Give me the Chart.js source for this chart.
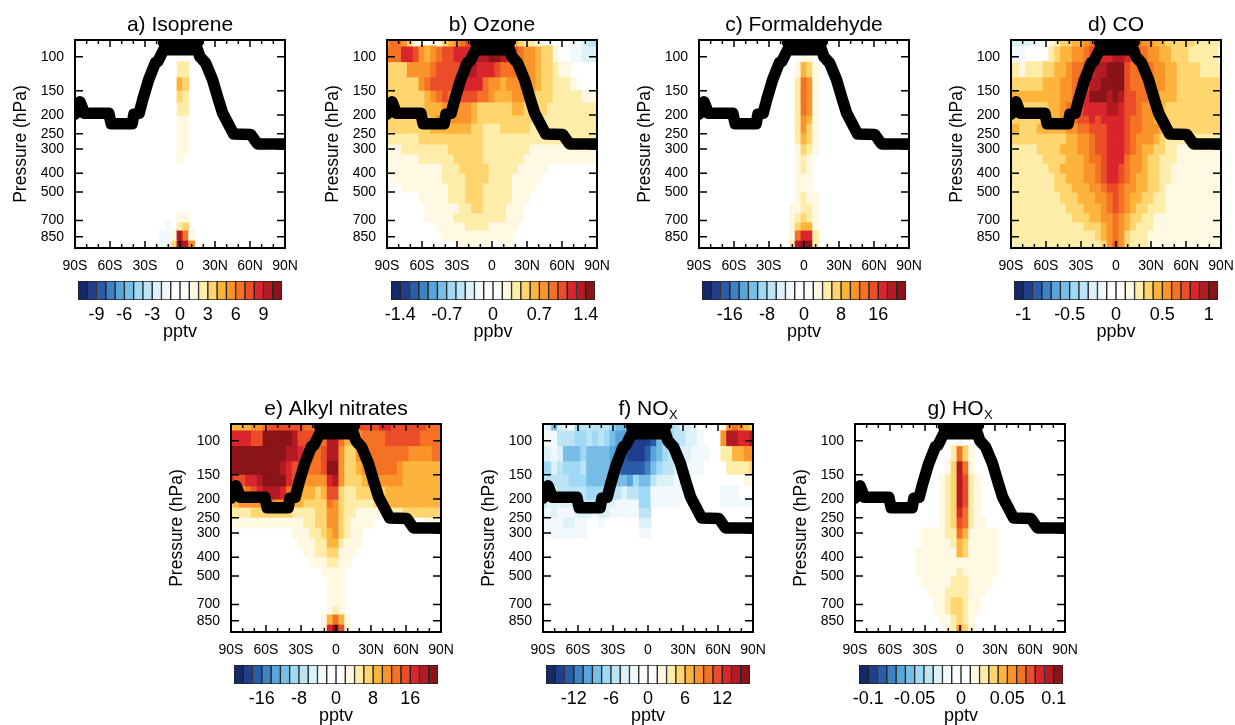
<!DOCTYPE html>
<html>
<head>
<meta charset="utf-8">
<script src="https://cdn.jsdelivr.net/npm/chart.js@4/dist/chart.umd.min.js"></script>
<style>
html, body { margin: 0; background: #fff; width: 1235px; height: 725px; overflow: hidden; }
canvas { position: absolute; }
</style>
</head>
<body>
<script>
// shared axes
var latTicks = [-90, -60, -30, 0, 30, 60, 90];
var latLabels = ["90S", "60S", "30S", "0", "30N", "60N", "90N"];
var latMinorTicks = [-80, -70, -50, -40, -20, -10, 10, 20, 40, 50, 70, 80];
var pressureTicks = [100, 150, 200, 250, 300, 400, 500, 700, 850];
var pressureEdges = [82, 88, 106, 127, 149, 171, 200, 220, 248, 282, 318, 354, 398, 448, 499, 569, 640, 713, 785, 885, 972];
var fullLats = [-90, -85, -80, -75, -70, -65, -60, -55, -50, -45, -40, -35, -30, -25, -20, -15, -10, -5, 0, 5, 10, 15, 20, 25, 30, 35, 40, 45, 50, 55, 60, 65, 70, 75, 80, 85, 90];

// tropopause
var tropLats = [-90, -88, -85.7, -83.5, -82, -61, -59, -41, -39.5, -35, -32, -27, -21, -19, -14, 15, 17, 22, 28, 33, 36.6, 41, 46, 60.7, 66.5, 90];
var tropPressures = [198, 185, 171, 185, 196, 196, 222, 222, 198, 196, 167, 132, 107, 106, 92, 92, 100, 108, 132, 167, 196, 220, 251, 252, 282.5, 282.5];
var tropCapLats = [-14, 15];
var tropCapPressures = [85, 85];

// colour bar boxes, blue end to red end
var boxColors = ["#16296b", "#1f3f8c", "#2a5caa", "#3f82c3", "#56a5db", "#77bde6", "#9ed9f6", "#bce4f5", "#ddf1f9", "#f1f9fd", "#ffffff",
                 "#ffffff", "#fff8e3", "#fdeda9", "#fed56f", "#fdb43c", "#f9932a", "#f57224", "#ea4d28", "#d9252b", "#b31a23", "#8b1419"];

// Rows run top to bottom between pressureEdges, values are counted in colour bar intervals.
// Short rows just stop where the rest is zero.
var isopreneLats = [-15, -10, -5, 0, 5, 10];
var isopreneRows = [[], [],
  [0, 0, 0, 2, 2], [0, 0, 0, 4, 3], [0, 0, 0, 3, 2], [0, 0, 0, 2, 2], [0, 0, 0, 1, 1], [0, 0, 0, 1, 1], [0, 0, 0, 1, 1], [0, 0, 0, 1, 1], [0, 0, 0, 1],
  [], [], [], [], [], [0, 0, 0, 1, 1], [0, -1, 0, 2, 3], [-1, -1, 1, 9, 6, 1], [-1, -1, 3, 10, 9, 5]];

var formaldehydeLats = [-15, -10, -5, 0, 5, 10, 15];
var formaldehydeRows = [[],
  [0, 0, 0, 1, 1], [0, 0, 1, 4, 3, 1], [0, 0, 2, 6, 5, 1], [0, 0, 2, 6, 5, 1], [0, 0, 2, 6, 5, 1], [0, 0, 2, 5, 4, 1], [0, 0, 2, 5, 3, 1], [0, 0, 2, 4, 3, 1], [0, 0, 1, 3, 2, 1],
  [0, 0, 1, 2, 1], [0, 0, 1, 2, 1], [0, 0, 1, 1, 1], [0, 0, 1, 1, 1], [0, 0, 1, 2, 1, 1], [0, 1, 1, 2, 2, 1], [0, 1, 2, 3, 2, 1], [0, 1, 3, 4, 4, 1], [0, 1, 6, 8, 8, 2], [0, 2, 9, 10, 10, 2]];

var hoxLats = [-35, -30, -25, -20, -15, -10, -5, 0, 5, 10, 15, 20, 25, 30, 35];
var hoxRows = [[],
  [0, 0, 0, 0, 0, 0, 0, 1],
  [0, 0, 0, 0, 0, 0, 2, 6, 3, 1],
  [0, 0, 0, 0, 0, 1, 3, 9, 6, 1],
  [0, 0, 0, 0, 1, 2, 3, 9, 7, 2, 1],
  [0, 0, 0, 0, 1, 2, 3, 9, 7, 2, 1],
  [0, 0, 0, 0, 1, 2, 3, 9, 7, 2, 1],
  [0, 0, 0, 0, 1, 2, 3, 8, 6, 2, 1],
  [0, 0, 0, 0, 1, 2, 3, 7, 6, 2, 1, 1],
  [0, 1, 1, 1, 1, 2, 2, 6, 4, 1, 1, 1, 1, 1],
  [0, 1, 1, 1, 1, 1, 2, 4, 3, 1, 1, 1, 1, 1],
  [1, 1, 1, 1, 1, 1, 1, 4, 3, 1, 1, 1, 1, 1],
  [1, 1, 1, 1, 1, 1, 1, 1, 1, 1, 1, 1, 1, 1],
  [1, 1, 1, 1, 1, 1, 1, 2, 1, 1, 1, 1, 1, 1],
  [0, 1, 1, 1, 1, 1, 2, 2, 2, 1, 1, 1, 1],
  [0, 0, 1, 1, 1, 2, 2, 2, 2, 1, 1, 1],
  [0, 0, 0, 1, 1, 2, 3, 3, 2, 1, 1],
  [0, 0, 0, 1, 1, 2, 3, 3, 2, 1, 1],
  [0, 0, 0, 0, 1, 1, 2, 3, 2, 1],
  [0, 0, 0, 0, 0, 1, 2, 5, 3, 1]];

var ozoneRows = [
  [5, 6, 6, 5, 3, 1, 0, 0, 0, 1, 3, 4, 5, 6, 7, 7, 7, 7, 7, 7, 7, 7, 4, 3, 2, 2, 1, 0, 0, 0, 0, 0, -1, -1, -2, -3, -3],
  [6, 6, 6, 8, 8, 7, 5, 4, 5, 6, 7, 7, 8, 8, 8, 9, 9, 9, 10, 10, 9, 8, 7, 6, 5, 5, 4, 3, 3, 1, 0, 0, -1, -1, -2, -2, -2],
  [3, 3, 3, 3, 5, 5, 5, 5, 6, 7, 7, 7, 7, 8, 9, 9, 8, 8, 8, 7, 6, 6, 6, 6, 5, 5, 4, 3, 3, 2, 1, 1],
  [3, 3, 3, 3, 3, 3, 5, 6, 7, 7, 7, 7, 7, 8, 8, 8, 8, 6, 5, 5, 4, 5, 5, 5, 6, 5, 4, 3, 3, 2, 2, 2, 1],
  [3, 3, 3, 3, 3, 3, 3, 4, 5, 6, 7, 6, 6, 7, 7, 7, 6, 6, 5, 4, 4, 4, 5, 5, 4, 4, 3, 3, 3, 2, 2, 2, 2, 2, 1, 1, 1],
  [3, 3, 3, 3, 3, 3, 3, 4, 4, 4, 5, 5, 5, 5, 5, 4, 3, 3, 3, 3, 3, 3, 4, 4, 3, 3, 3, 3, 2, 2, 2, 2, 2, 2, 2, 2, 2],
  [3, 3, 3, 3, 3, 3, 3, 3, 4, 5, 5, 5, 5, 5, 5, 4, 3, 3, 3, 3, 3, 3, 3, 3, 3, 3, 2, 2, 2, 2, 2, 2, 2, 2, 2, 2, 2],
  [3, 3, 3, 3, 3, 3, 3, 3, 4, 4, 4, 4, 4, 4, 4, 3, 3, 2, 2, 2, 3, 3, 3, 3, 3, 2, 2, 2, 2, 2, 2, 2, 2, 2, 2, 2, 2],
  [2, 2, 2, 2, 2, 2, 3, 3, 3, 3, 3, 3, 3, 3, 3, 3, 3, 2, 2, 2, 2, 2, 2, 2, 2, 2, 2, 2, 2, 2, 2, 2, 2, 2, 2, 2, 2],
  [1, 1, 1, 2, 2, 2, 2, 2, 2, 2, 2, 3, 3, 3, 3, 3, 3, 2, 2, 2, 2, 2, 2, 2, 2, 1, 1, 1, 1, 1, 1, 1, 1, 1, 1, 1, 1],
  [1, 1, 1, 1, 1, 1, 2, 2, 2, 2, 2, 2, 3, 3, 3, 3, 3, 2, 2, 2, 2, 2, 2, 2, 1, 1, 1, 1, 1, 1, 1, 1, 1, 1, 1, 1, 1],
  [1, 1, 1, 1, 1, 1, 1, 1, 1, 1, 2, 2, 2, 3, 3, 3, 3, 3, 2, 2, 2, 2, 2, 1, 1, 1, 1, 1],
  [0, 1, 1, 1, 1, 1, 1, 1, 1, 1, 2, 2, 2, 2, 3, 3, 3, 3, 2, 2, 2, 2, 1, 1, 1, 1, 1],
  [0, 0, 0, 1, 1, 1, 1, 1, 1, 1, 1, 2, 2, 2, 3, 3, 3, 2, 2, 2, 2, 2, 1, 1, 1, 1],
  [0, 0, 0, 0, 0, 0, 1, 1, 1, 1, 1, 2, 2, 2, 3, 3, 3, 2, 2, 2, 2, 2, 1, 1, 1],
  [0, 0, 0, 0, 0, 0, 0, 1, 1, 1, 1, 1, 1, 2, 2, 3, 3, 2, 2, 2, 2, 1, 1, 1],
  [0, 0, 0, 0, 0, 0, 0, 1, 1, 1, 1, 1, 2, 2, 2, 2, 2, 2, 2, 2, 2, 1, 1, 1],
  [0, 0, 0, 0, 0, 0, 0, 0, 0, 1, 1, 1, 1, 1, 2, 2, 2, 2, 1, 1, 1, 1, 1],
  [0, 0, 0, 0, 0, 0, 0, 0, 0, 0, 1, 1, 1, 1, 1, 1, 1, 1, 1, 1, 1, 1],
  [0, 0, 0, 0, 0, 0, 0, 0, 0, 0, 0, 0, 1, 1, 1, 1, 1, 1, 0, 0, 1, 1]];

var coRows = [
  [-2, -2, -2, -2, -1, -1, 0, 1, 2, 3, 3, 4, 4, 5, 6, 7, 8, 8, 8, 8, 8, 8, 6, 5, 5, 4, 4, 3, 3, 3, 3, 3, 2, 2, 2, 2, 2],
  [-1, -1, -1, 0, 0, 0, 0, 2, 3, 4, 4, 5, 5, 6, 7, 7, 8, 8, 9, 9, 8, 7, 6, 6, 5, 5, 4, 4, 3, 3, 3, 2, 2, 2, 2, 2, 1],
  [2, 2, 1, 2, 2, 2, 3, 3, 4, 4, 5, 6, 6, 7, 8, 9, 9, 10, 10, 10, 7, 6, 6, 6, 6, 5, 5, 4, 4, 3, 3, 3, 3, 2, 2, 2, 2],
  [3, 3, 3, 3, 3, 3, 4, 4, 4, 5, 5, 6, 7, 7, 9, 9, 10, 10, 10, 10, 7, 6, 6, 6, 6, 5, 5, 4, 4, 3, 3, 3, 3, 3, 3, 3, 3],
  [4, 4, 4, 4, 4, 4, 4, 4, 4, 5, 5, 6, 7, 8, 10, 10, 10, 9, 10, 9, 7, 7, 6, 6, 5, 5, 4, 4, 4, 3, 3, 3, 3, 3, 3, 3, 3],
  [4, 4, 3, 3, 3, 3, 3, 4, 4, 5, 6, 6, 7, 8, 8, 8, 8, 9, 9, 8, 7, 7, 6, 5, 5, 4, 4, 3, 3, 3, 3, 3, 3, 3, 3, 3, 3],
  [3, 3, 3, 3, 3, 3, 3, 4, 4, 5, 6, 6, 7, 7, 8, 7, 8, 8, 8, 8, 7, 6, 6, 5, 5, 4, 3, 3, 3, 3, 3, 3, 3, 3, 3, 3, 3],
  [4, 4, 3, 3, 3, 4, 4, 4, 4, 4, 5, 5, 6, 6, 7, 7, 7, 8, 8, 8, 7, 6, 6, 5, 5, 5, 4, 3, 3, 3, 3, 3, 3, 3, 3, 3, 3],
  [3, 3, 3, 3, 3, 3, 3, 3, 3, 3, 4, 4, 5, 5, 6, 7, 7, 8, 8, 8, 7, 6, 5, 5, 5, 4, 3, 2, 2, 2, 2, 2, 2, 2, 2, 2, 2],
  [2, 2, 2, 2, 2, 3, 3, 3, 3, 4, 4, 4, 5, 5, 6, 7, 7, 8, 8, 8, 7, 6, 5, 4, 4, 3, 3, 2, 2, 1, 1, 1, 1, 1, 1, 1, 1],
  [2, 2, 2, 2, 2, 2, 3, 3, 3, 3, 4, 4, 4, 5, 6, 6, 7, 8, 8, 8, 6, 5, 5, 4, 3, 3, 2, 2, 2, 1, 1, 1, 1, 1, 1, 1, 1],
  [2, 2, 2, 2, 2, 2, 2, 3, 3, 4, 4, 4, 4, 5, 5, 6, 7, 8, 8, 7, 6, 5, 5, 4, 3, 3, 2, 2, 1, 1, 1, 1, 1, 1, 1, 1, 1],
  [2, 2, 2, 2, 2, 2, 2, 2, 3, 3, 4, 4, 4, 5, 5, 6, 7, 8, 8, 7, 6, 5, 4, 4, 3, 3, 2, 2, 1, 1, 1, 1, 1, 1, 1, 1, 1],
  [2, 2, 2, 2, 2, 2, 2, 2, 3, 3, 3, 4, 4, 4, 5, 5, 6, 7, 7, 6, 5, 5, 4, 4, 3, 3, 2, 1, 1, 1, 1, 1, 1, 1, 1, 1, 1],
  [2, 2, 2, 2, 2, 2, 2, 2, 2, 3, 3, 3, 4, 4, 4, 5, 5, 6, 7, 6, 5, 4, 4, 3, 3, 2, 2, 1, 1, 1, 1, 1, 1, 1, 1, 1, 1],
  [2, 2, 2, 2, 2, 2, 2, 2, 2, 2, 3, 3, 3, 4, 4, 4, 5, 6, 7, 6, 5, 4, 3, 3, 2, 2, 2, 1, 1, 1, 1, 1, 1, 1, 1, 1, 1],
  [2, 2, 2, 2, 2, 2, 2, 2, 2, 2, 2, 3, 3, 3, 4, 4, 5, 5, 6, 5, 4, 3, 3, 2, 2, 1, 1, 1, 1, 1, 1, 1, 1, 1, 1, 1, 1],
  [2, 2, 2, 2, 2, 2, 2, 2, 2, 2, 2, 2, 2, 3, 3, 3, 4, 5, 6, 5, 4, 3, 2, 2, 2, 1, 1, 1, 1, 1, 1, 1, 1, 1, 1, 1, 1],
  [2, 2, 2, 2, 2, 2, 2, 2, 2, 2, 2, 2, 2, 2, 2, 3, 4, 5, 6, 5, 3, 2, 2, 2, 1, 1, 1, 1, 1, 1, 1, 1, 1, 1, 1, 1, 1],
  [0, 2, 2, 2, 2, 2, 2, 2, 2, 2, 2, 2, 2, 2, 2, 2, 3, 5, 7, 5, 3, 2, 2, 2, 1, 1, 1, 1, 1, 1, 1, 1, 1, 1, 1, 1, 1]];

var alkylRows = [
  [4, 4, 4, 4, 5, 5, 6, 7, 7, 7, 7, 7, 7, 6, 6, 7, 8, 8, 8, 8, 8, 8, 7, 7, 7, 7, 8, 8, 7, 7, 7, 7, 7, 7, 6, 6, 6],
  [8, 8, 8, 8, 7, 7, 10, 10, 10, 10, 10, 9, 7, 7, 7, 6, 6, 9, 9, 6, 4, 3, 5, 6, 6, 6, 6, 7, 7, 7, 7, 7, 7, 6, 6, 6, 6],
  [10, 10, 10, 10, 10, 10, 10, 10, 10, 10, 9, 9, 8, 7, 6, 6, 7, 9, 9, 5, 3, 3, 5, 6, 6, 6, 6, 6, 6, 6, 6, 5, 5, 5, 5, 6, 6],
  [10, 10, 10, 10, 10, 10, 10, 10, 10, 9, 8, 7, 7, 6, 6, 6, 7, 10, 10, 5, 3, 3, 4, 5, 5, 6, 6, 6, 6, 5, 4, 4, 4, 4, 4, 4, 4],
  [8, 7, 7, 8, 8, 9, 10, 10, 10, 10, 8, 7, 7, 5, 5, 5, 5, 8, 9, 5, 3, 3, 3, 4, 5, 5, 5, 5, 5, 5, 4, 4, 4, 4, 4, 4, 4],
  [4, 5, 5, 6, 7, 8, 9, 9, 9, 8, 6, 5, 4, 4, 4, 3, 4, 7, 7, 3, 2, 2, 3, 3, 3, 3, 3, 4, 4, 4, 4, 4, 4, 4, 4, 4, 4],
  [3, 4, 5, 5, 5, 5, 5, 6, 5, 5, 4, 4, 4, 3, 3, 3, 3, 6, 5, 3, 2, 2, 2, 2, 2, 3, 3, 4, 4, 4, 4, 4, 4, 4, 4, 4, 4],
  [2, 2, 2, 2, 3, 3, 3, 3, 3, 3, 3, 2, 2, 2, 2, 3, 3, 5, 5, 3, 2, 2, 1, 1, 1, 1, 1, 2, 2, 2, 3, 3, 3, 3, 3, 3, 3],
  [1, 1, 1, 1, 1, 1, 1, 1, 1, 1, 1, 1, 1, 2, 2, 3, 3, 5, 5, 3, 2, 1, 1, 1, 1, 0, 0, 0, 0, 0, 0, 0, 0, 0, 1, 1, 1],
  [0, 0, 0, 0, 0, 0, 0, 0, 0, 0, 0, 1, 1, 1, 2, 2, 3, 4, 5, 3, 2, 1, 1],
  [0, 0, 0, 0, 0, 0, 0, 0, 0, 0, 0, 0, 1, 1, 1, 2, 2, 4, 4, 2, 1, 1, 1],
  [0, 0, 0, 0, 0, 0, 0, 0, 0, 0, 0, 0, 0, 1, 1, 2, 2, 3, 3, 1, 1, 1],
  [0, 0, 0, 0, 0, 0, 0, 0, 0, 0, 0, 0, 0, 0, 1, 1, 1, 2, 2, 1, 1],
  [0, 0, 0, 0, 0, 0, 0, 0, 0, 0, 0, 0, 0, 0, 0, 0, 1, 1, 1, 1],
  [0, 0, 0, 0, 0, 0, 0, 0, 0, 0, 0, 0, 0, 0, 0, 0, 0, 1, 1, 1],
  [0, 0, 0, 0, 0, 0, 0, 0, 0, 0, 0, 0, 0, 0, 0, 0, 0, 1, 1, 1],
  [0, 0, 0, 0, 0, 0, 0, 0, 0, 0, 0, 0, 0, 0, 0, 0, 0, 1, 1, 1],
  [0, 0, 0, 0, 0, 0, 0, 0, 0, 0, 0, 0, 0, 0, 0, 0, 0, 1, 2, 1],
  [0, 0, 0, 0, 0, 0, 0, 0, 0, 0, 0, 0, 0, 0, 0, 0, 1, 4, 6, 4, 1],
  [0, 0, 0, 0, 0, 0, 0, 0, 0, 0, 0, 0, 0, 0, 0, 0, 1, 8, 10, 7, 1]];

var noxRows = [
  [-1, -2, -5, -2, -1, -1, -4, -3, -3, -3, -3, -3, -4, -5, -5, -5, -5, -5, -5, -5, -5, -5, -4, -3, -2, -2, -1, 0, 0, 0, 0, 1, 5, 6, 5, 4, 3],
  [-1, -1, -1, -3, -3, -3, -4, -4, -3, -4, -3, -4, -5, -6, -6, -9, -9, -9, -9, -8, -5, -4, -4, -3, -3, -2, -2, -1, 0, 0, 0, 5, 9, 9, 8, 8, 9],
  [-2, -2, -1, -2, -5, -5, -5, -4, -5, -5, -5, -5, -6, -7, -8, -9, -9, -9, -8, -6, -5, -4, -3, -3, -2, -2, -1, -1, -1, 0, 0, 2, 2, 4, 4, 5, 5],
  [-4, -4, -2, -3, -4, -4, -4, -3, -5, -5, -5, -5, -6, -7, -8, -8, -8, -8, -7, -5, -4, -3, -3, -2, -2, -1, -1, -1, 0, 0, 0, 0, 2, 2, 2, 2, 3],
  [-3, -3, -3, -3, -3, -4, -4, -4, -5, -5, -5, -5, -5, -5, -5, -6, -4, -5, -5, -3, -2, -2, -2, -1, -1, -1, 0, 0, 0, 0, 0, 0, 0, 0, 0, 1, 1],
  [-2, -2, -2, -3, -3, -3, -3, -3, -4, -4, -4, -3, -3, -3, -2, -3, -3, -4, -4, -1, -1, -1, -1, -1, -1, 0, 0, 0, 0, 0, 0, -1, -1, -1],
  [-3, -2, -2, -2, -2, -2, -3, -3, -3, -3, -2, -2, -2, -1, -1, -1, -1, -4, -4, -1, -1, -1, -1, -1, 0, 0, 0, 0, 0, 0, 0, -1, -1, -1, -1, -1, -1],
  [-2, -1, -2, -1, -1, -1, -2, -2, -2, -1, -2, -2, -1, -1, -1, -1, -1, -3, -3],
  [-1, -1, -1, -1, -2, -2, -1, -1, 0, 0, -1, 0, 0, 0, 0, 0, 0, -2, -2],
  [0, -1, -1, -1, -1, -1, -1, -1, 0, 0, 0, 0, 0, 0, 0, 0, 0, -1, -1],
  [], [], [], [], [], [], [], [], [], []];

// colour bar intervals and labelled values
var isopreneBarTicks = [-9, -6, -3, 0, 3, 6, 9];
var ozoneBarTicks = [-1.4, -0.7, 0, 0.7, 1.4];
var formaldehydeBarTicks = [-16, -8, 0, 8, 16];
var coBarTicks = [-1, -0.5, 0, 0.5, 1];
var alkylBarTicks = [-16, -8, 0, 8, 16];
var noxBarTicks = [-12, -6, 0, 6, 12];
var hoxBarTicks = [-0.1, -0.05, 0, 0.05, 0.1];

var panels = [
  { title: "a) Isoprene", unit: "pptv", lats: isopreneLats, rows: isopreneRows, step: 1, barTicks: isopreneBarTicks, left: 75, top: 40, barLeft: 77.5, barTop: 281 },
  { title: "b) Ozone", unit: "ppbv", lats: fullLats, rows: ozoneRows, step: 0.14, barTicks: ozoneBarTicks, left: 387, top: 40, barLeft: 391, barTop: 281 },
  { title: "c) Formaldehyde", unit: "pptv", lats: formaldehydeLats, rows: formaldehydeRows, step: 2, barTicks: formaldehydeBarTicks, left: 699, top: 40, barLeft: 701.5, barTop: 281 },
  { title: "d) CO", unit: "ppbv", lats: fullLats, rows: coRows, step: 0.1, barTicks: coBarTicks, left: 1011, top: 40, barLeft: 1014, barTop: 281 },
  { title: "e) Alkyl nitrates", unit: "pptv", lats: fullLats, rows: alkylRows, step: 2, barTicks: alkylBarTicks, left: 231, top: 424, barLeft: 233.5, barTop: 665 },
  { title: "f) NO", sub: "X", unit: "pptv", lats: fullLats, rows: noxRows, step: 1.5, barTicks: noxBarTicks, left: 543, top: 424, barLeft: 546, barTop: 665 },
  { title: "g) HO", sub: "X", unit: "pptv", lats: hoxLats, rows: hoxRows, step: 0.01, barTicks: hoxBarTicks, left: 855, top: 424, barLeft: 859, barTop: 665 }
];

var plotWidth = 210, plotHeight = 208, barWidth = 204, barHeight = 19;
var fontName = "'Liberation Sans', Arial, sans-serif";

Chart.defaults.font.family = fontName;
Chart.defaults.color = "#000";
Chart.defaults.animation = false;

function addCanvas(left, top, width, height) {
    var canvas = document.createElement("canvas");
    canvas.width = width;
    canvas.height = height;
    canvas.style.left = left + "px";
    canvas.style.top = top + "px";
    document.body.appendChild(canvas);
    return canvas;
}

function boxColor(n) {
    return boxColors[n > 0 ? 11 + n : (n < 0 ? 10 + n : 10)];
}

function heatDatasets(lats, rows) {
    var sets = [];
    for (var r = 0; r < rows.length; r++) {
        var points = [], colors = [];
        for (var c = 0; c < rows[r].length; c++) {
            if (!rows[r][c]) continue;
            points.push({ x: lats[c], y: [pressureEdges[r], pressureEdges[r + 1]] });
            colors.push(boxColor(rows[r][c]));
        }
        sets.push({
            type: "bar", data: points, backgroundColor: colors, borderWidth: 0, inflateAmount: 0.5,
            grouped: false, barPercentage: 1, categoryPercentage: 1, order: 2
        });
    }
    return sets;
}

function lineDataset(lats, pressures) {
    var points = [];
    for (var i = 0; i < lats.length; i++) {
        points.push({ x: lats[i], y: pressures[i] });
    }
    return {
        type: "line", data: points, borderColor: "#000", borderWidth: 11.5, pointRadius: 0,
        borderJoinStyle: "round", borderCapStyle: "round", tension: 0, order: 1
    };
}

// frame with ticks pointing in on all four sides
var frameTicks = {
    id: "frameTicks",
    afterDatasetsDraw: function (chart) {
        var area = chart.chartArea, ctx = chart.ctx, x = chart.scales.x, y = chart.scales.y;
        ctx.save();
        ctx.strokeStyle = "#000";
        ctx.lineWidth = 1.5;
        ctx.beginPath();
        function latTick(lat, len) {
            var px = x.getPixelForValue(lat);
            ctx.moveTo(px, area.bottom); ctx.lineTo(px, area.bottom - len);
            ctx.moveTo(px, area.top); ctx.lineTo(px, area.top + len);
        }
        latTicks.forEach(function (lat) { latTick(lat, 7); });
        latMinorTicks.forEach(function (lat) { latTick(lat, 4); });
        pressureTicks.forEach(function (p) {
            var py = y.getPixelForValue(p);
            ctx.moveTo(area.left, py); ctx.lineTo(area.left + 8, py);
            ctx.moveTo(area.right, py); ctx.lineTo(area.right - 8, py);
        });
        ctx.stroke();
        ctx.lineWidth = 2;
        ctx.strokeRect(area.left, area.top, area.right - area.left, area.bottom - area.top);
        ctx.restore();
    }
};

// small X after the title, the title moves left so both together stay centred
var subscript = {
    id: "subscript",
    beforeDraw: function (chart, args, opts) {
        if (opts.text) chart.titleBlock.right = chart.chartArea.right - 9;
    },
    afterDraw: function (chart, args, opts) {
        if (!opts.text) return;
        var ctx = chart.ctx, area = chart.chartArea;
        ctx.save();
        ctx.font = "21px " + fontName;
        var w = ctx.measureText(chart.options.plugins.title.text).width;
        ctx.font = "13px " + fontName;
        ctx.fillStyle = "#000";
        ctx.textBaseline = "alphabetic";
        ctx.fillText(opts.text, (area.left + area.right) / 2 - 4.5 + w / 2 + 0.5, 35);
        ctx.restore();
    }
};

function drawPanel(p) {
    var canvas = addCanvas(p.left - 70, p.top - 40, 70 + plotWidth + 70, 40 + plotHeight + 30);
    var datasets = heatDatasets(p.lats, p.rows);
    datasets.push(lineDataset(tropLats, tropPressures));
    datasets.push(lineDataset(tropCapLats, tropCapPressures));
    new Chart(canvas, {
        type: "bar",
        data: { datasets: datasets },
        options: {
            responsive: false,
            devicePixelRatio: 1,
            layout: { padding: { left: 0, right: 70, top: 0, bottom: 0 } },
            plugins: {
                legend: { display: false },
                tooltip: { enabled: false },
                title: {
                    display: true, text: p.title, color: "#000", fullSize: false,
                    font: { size: 21, weight: "normal", lineHeight: 1.2 },
                    padding: { top: 13, bottom: 1.8 }
                },
                subscript: { text: p.sub }
            },
            scales: {
                x: {
                    type: "linear", min: -90, max: 90, offset: false,
                    grid: { display: false, offset: false, drawTicks: false }, border: { display: false },
                    afterBuildTicks: function (axis) { axis.ticks = latTicks.map(function (v) { return { value: v }; }); },
                    afterFit: function (axis) { axis.height = 30; },
                    ticks: {
                        autoSkip: false, maxRotation: 0, padding: 10, font: { size: 14 },
                        callback: function (v) { return latLabels[latTicks.indexOf(v)]; }
                    }
                },
                y: {
                    type: "logarithmic", min: 82, max: 972, reverse: true,
                    grid: { display: false, drawTicks: false }, border: { display: false },
                    afterBuildTicks: function (axis) { axis.ticks = pressureTicks.map(function (v) { return { value: v }; }); },
                    afterFit: function (axis) { axis.width = 70; },
                    ticks: {
                        autoSkip: false, padding: 11, font: { size: 14 },
                        callback: function (v) { return String(v); }
                    },
                    title: { display: true, text: "Pressure (hPa)", font: { size: 17.5 }, padding: { top: 6, bottom: 0 } }
                }
            }
        },
        plugins: [frameTicks, subscript]
    });
}

function drawColorBar(p) {
    var canvas = addCanvas(p.barLeft - 30, p.barTop - 1, barWidth + 60, 1 + barHeight + 46);
    var sets = [];
    for (var k = 0; k < boxColors.length; k++) {
        sets.push({
            data: [[(k - 11) * p.step, (k - 10) * p.step]],
            backgroundColor: boxColors[k], borderColor: "#222", borderWidth: 1, borderSkipped: false,
            grouped: false, barPercentage: 1, categoryPercentage: 1
        });
    }
    new Chart(canvas, {
        type: "bar",
        data: { labels: [p.unit], datasets: sets },
        options: {
            indexAxis: "y",
            responsive: false,
            devicePixelRatio: 1,
            layout: { padding: { left: 30, right: 30, top: 1, bottom: 0 } },
            plugins: { legend: { display: false }, tooltip: { enabled: false } },
            scales: {
                x: {
                    type: "linear", min: -11 * p.step, max: 11 * p.step,
                    grid: { display: false, drawTicks: false }, border: { display: false },
                    afterBuildTicks: function (axis) { axis.ticks = p.barTicks.map(function (v) { return { value: v }; }); },
                    afterFit: function (axis) { axis.height = 46; },
                    ticks: {
                        autoSkip: false, maxRotation: 0, padding: 4, font: { size: 18 },
                        callback: function (v) { return String(v); }
                    },
                    title: { display: true, text: p.unit, font: { size: 18 }, padding: { top: 0, bottom: 3 } }
                },
                y: { display: false }
            }
        }
    });
}

panels.forEach(function (p) {
    drawPanel(p);
    drawColorBar(p);
});
</script>
</body>
</html>
